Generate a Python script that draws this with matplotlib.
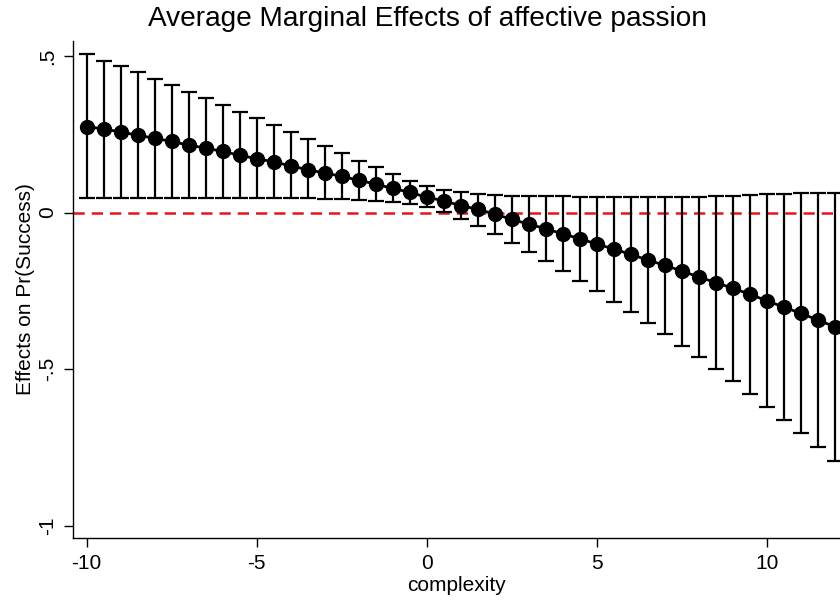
import numpy as np
import matplotlib
matplotlib.use("Agg")
import matplotlib.pyplot as plt

complexity = np.arange(-10, 12.01, 0.5)
effect = [0.274, 0.267, 0.257, 0.247, 0.237, 0.227, 0.215, 0.206, 0.195, 0.183,
          0.172, 0.162, 0.149, 0.137, 0.126, 0.116, 0.103, 0.091, 0.077, 0.065,
          0.049, 0.038, 0.022, 0.011, -0.005, -0.021, -0.037, -0.051, -0.068, -0.083,
          -0.100, -0.116, -0.133, -0.151, -0.168, -0.186, -0.205, -0.223, -0.241, -0.260,
          -0.281, -0.301, -0.321, -0.342, -0.364]
upper = [0.506, 0.485, 0.468, 0.447, 0.427, 0.408, 0.386, 0.365, 0.344, 0.322,
         0.301, 0.280, 0.258, 0.235, 0.212, 0.189, 0.166, 0.144, 0.122, 0.100,
         0.084, 0.071, 0.065, 0.060, 0.056, 0.053, 0.053, 0.052, 0.052, 0.051,
         0.050, 0.050, 0.050, 0.050, 0.050, 0.051, 0.051, 0.053, 0.054, 0.056,
         0.058, 0.060, 0.061, 0.062, 0.064]
lower = [0.047, 0.047, 0.047, 0.047, 0.047, 0.047, 0.047, 0.047, 0.047, 0.047,
         0.047, 0.047, 0.046, 0.045, 0.044, 0.042, 0.040, 0.037, 0.034, 0.028,
         0.017, 0.002, -0.019, -0.042, -0.069, -0.097, -0.127, -0.154, -0.186, -0.217,
         -0.251, -0.284, -0.317, -0.352, -0.388, -0.424, -0.462, -0.500, -0.538, -0.580,
         -0.620, -0.661, -0.703, -0.747, -0.792]
xticks = [-10, -5, 0, 5, 10]
yticks = [0.5, 0, -0.5, -1]
ytick_labels = [".5", "0", "-.5", "-1"]

plt.rcParams['font.family'] = ['Liberation Sans', 'DejaVu Sans']

fig = plt.figure(figsize=(8.4, 6), dpi=100)
ax = fig.add_axes([0.0866, 0.1033, 1.0 - 0.0866, 0.932 - 0.1033])

effect = np.array(effect)
upper = np.array(upper)
lower = np.array(lower)

ax.axhline(0, color="#e8141b", lw=1.8, linestyle=(0, (4.5, 2.8)), zorder=1)
ax.errorbar(complexity, effect, yerr=[effect - lower, upper - effect],
            fmt="none", ecolor="black", elinewidth=1.6, capsize=5.5,
            capthick=1.6, zorder=2)
ax.plot(complexity, effect, color="black", lw=2, marker="o", markersize=10,
        zorder=3, clip_on=True)

ax.set_xlim(-10.41, 12.16)
ax.set_ylim(-1.038, 0.548)
ax.set_xticks(xticks)
ax.set_xticklabels([str(t) for t in xticks])
ax.set_yticks(yticks)
ax.set_yticklabels(ytick_labels, rotation=90, va="center")

for s in ["top", "right"]:
    ax.spines[s].set_visible(False)
for s in ["left", "bottom"]:
    ax.spines[s].set_linewidth(1.0)
ax.tick_params(axis="both", direction="out", length=6.5, width=1.0,
               labelsize=15, pad=5)

ax.set_xlabel("complexity", fontsize=15, labelpad=2)
ax.set_ylabel("Effects on Pr(Success)", fontsize=15, labelpad=2)
fig.text(0.509, 0.968, "Average Marginal Effects of affective passion",
         ha="center", va="center", fontsize=20.2)

fig.savefig("out.png", dpi=100)
